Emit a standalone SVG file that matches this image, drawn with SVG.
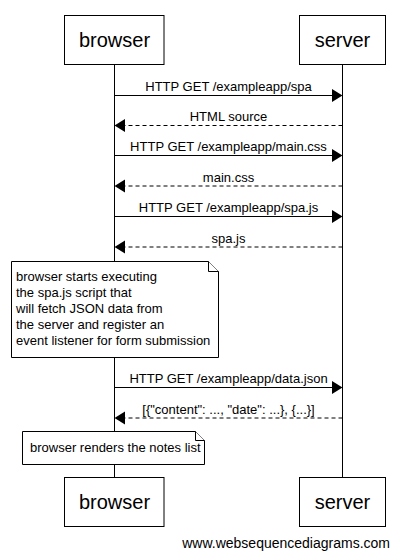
<svg xmlns="http://www.w3.org/2000/svg" width="400" height="560" viewBox="0 0 400 560">
<style>
text{font-family:"Liberation Sans",Arial,sans-serif;fill:#000}
.actor{fill:#fff;stroke:#000;stroke-width:1}
.an{font-size:20px;text-anchor:middle}
.life{stroke:#000;stroke-width:1;fill:none}
.msg{stroke:#000;stroke-width:1;fill:none}
.dash{stroke-dasharray:4,3}
.lbl{font-size:13px;text-anchor:middle}
.note{fill:#fff;stroke:#000;stroke-width:1}
.nt{font-size:13px}
.head{fill:#000;stroke:none}
</style>
<rect width="400" height="560" fill="#fff"/>
<g id="lifelines">
<line class="life" x1="114.5" y1="64" x2="114.5" y2="477"/>
<line class="life" x1="342.5" y1="64" x2="342.5" y2="477"/>
</g>
<g id="browser-top"><rect class="actor" x="64.5" y="15.5" width="99.5" height="49"/><text class="an" x="114.5" y="47">browser</text></g>
<g id="server-top"><rect class="actor" x="299.5" y="15.5" width="86" height="49"/><text class="an" x="342.5" y="47">server</text></g>
<g id="browser-bottom"><rect class="actor" x="64.5" y="477.5" width="99.5" height="49"/><text class="an" x="114.5" y="509">browser</text></g>
<g id="server-bottom"><rect class="actor" x="299.5" y="477.5" width="86" height="49"/><text class="an" x="342.5" y="509">server</text></g>
<g id="connectors">
<line class="msg" x1="114.5" y1="95.5" x2="334" y2="95.5"/><polygon class="head" points="332,89 342.5,95.5 332,102"/>
<text class="lbl" x="228.5" y="91">HTTP GET /exampleapp/spa</text>
<line class="msg dash" x1="342.5" y1="125.5" x2="123" y2="125.5"/><polygon class="head" points="125,119 114.5,125.5 125,132"/>
<text class="lbl" x="228.5" y="121">HTML source</text>
<line class="msg" x1="114.5" y1="155.5" x2="334" y2="155.5"/><polygon class="head" points="332,149 342.5,155.5 332,162"/>
<text class="lbl" x="228.5" y="151">HTTP GET /exampleapp/main.css</text>
<line class="msg dash" x1="342.5" y1="186" x2="123" y2="186"/><polygon class="head" points="125,179.5 114.5,186 125,192.5"/>
<text class="lbl" x="228.5" y="181.5">main.css</text>
<line class="msg" x1="114.5" y1="216.5" x2="334" y2="216.5"/><polygon class="head" points="332,210 342.5,216.5 332,223"/>
<text class="lbl" x="228.5" y="212">HTTP GET /exampleapp/spa.js</text>
<line class="msg dash" x1="342.5" y1="247" x2="123" y2="247"/><polygon class="head" points="125,240.5 114.5,247 125,253.5"/>
<text class="lbl" x="228.5" y="242.5">spa.js</text>
<line class="msg" x1="114.5" y1="387.5" x2="334" y2="387.5"/><polygon class="head" points="332,381 342.5,387.5 332,394"/>
<text class="lbl" x="228.5" y="383">HTTP GET /exampleapp/data.json</text>
<line class="msg dash" x1="342.5" y1="418" x2="123" y2="418"/><polygon class="head" points="125,411.5 114.5,418 125,424.5"/>
<text class="lbl" x="228.5" y="413.5">[{"content": ..., "date": ...}, {...}]</text>
</g>
<g id="note1">
<path class="note" d="M11.5,261.5 H208.5 L218.5,271.5 V357.5 H11.5 Z"/>
<path class="note" d="M208.5,261.5 V271.5 H218.5"/>
<text class="nt" x="16" y="281">browser starts executing</text>
<text class="nt" x="16" y="297">the spa.js script that</text>
<text class="nt" x="16" y="313">will fetch JSON data from</text>
<text class="nt" x="16" y="329">the server and register an</text>
<text class="nt" x="16" y="345">event listener for form submission</text>
</g>
<g id="note2">
<path class="note" d="M22.5,431.5 H195.5 L204.5,440.5 V464.5 H22.5 Z"/>
<path class="note" d="M195.5,431.5 V440.5 H204.5"/>
<text class="nt" x="30" y="452">browser renders the notes list</text>
</g>
<text x="390" y="548" style="font-size:14px;text-anchor:end">www.websequencediagrams.com</text>
</svg>
